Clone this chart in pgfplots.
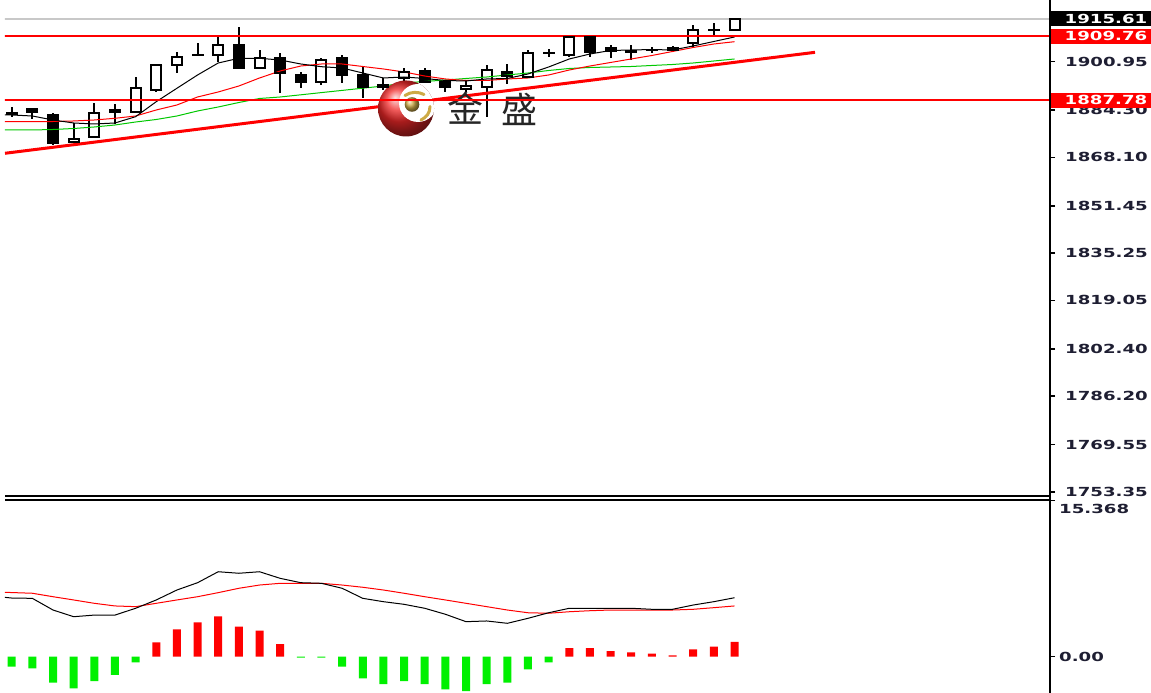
\documentclass[border=0pt]{standalone}
\usepackage{pgfplots}
\pgfplotsset{compat=1.18}
\usepackage{pgfplotstable}
\usepackage{fontspec}
\setmainfont{DejaVu Sans}
\newfontfamily\lblfamily[FakeStretch=1.45]{DejaVu Sans}
\newfontfamily\cjk{Noto Sans CJK SC}
\newcommand\lbl{\lblfamily\bfseries\fontsize{12.5}{13}\selectfont}
\definecolor{lblcol}{RGB}{30,30,50}
\definecolor{magreen}{RGB}{0,200,0}
\definecolor{hgreen}{RGB}{0,240,0}
\definecolor{hred}{RGB}{255,0,0}
\definecolor{bidgray}{RGB}{200,200,200}
\definecolor{logored}{RGB}{240,40,40}
\definecolor{logogold}{RGB}{205,170,70}

% bullish candles (white bodies)
\pgfplotstableread{
i o h l c
0 1883.10 1885.41 1881.88 1883.18
3 1873.30 1879.82 1873.13 1874.43
4 1875.02 1886.88 1874.67 1883.25
5 1883.69 1886.34 1879.58 1884.38
6 1883.80 1895.80 1883.55 1891.83
7 1891.24 1899.99 1890.66 1899.82
8 1899.82 1904.38 1896.97 1902.67
9 1903.25 1907.26 1903.08 1903.39
10 1903.25 1909.53 1900.95 1906.68
12 1898.69 1904.96 1898.55 1902.12
15 1894.09 1902.12 1892.96 1901.53
18 1892.27 1895.25 1891.24 1892.96
19 1895.36 1898.79 1893.99 1897.42
22 1891.58 1894.67 1890.55 1892.61
23 1892.37 1899.82 1881.98 1898.10
25 1895.80 1904.96 1895.70 1903.93
26 1903.76 1905.20 1902.67 1903.93
27 1903.25 1909.77 1902.56 1909.53
33 1907.26 1913.54 1906.10 1911.82
34 1911.72 1914.12 1910.11 1911.93
35 1911.82 1916.11 1911.82 1915.61
}\bull

% bearish candles (black bodies)
\pgfplotstableread{
i o h l c
1 1884.62 1884.80 1881.29 1883.59
2 1882.67 1883.25 1872.37 1872.96
11 1906.68 1912.96 1898.45 1898.69
13 1902.32 1903.83 1890.11 1896.97
14 1896.39 1897.52 1891.83 1894.09
16 1902.12 1903.25 1893.75 1896.39
17 1896.39 1899.23 1888.39 1892.17
20 1897.86 1898.69 1893.54 1894.09
21 1894.09 1894.67 1890.55 1892.37
24 1897.42 1900.16 1893.30 1896.04
28 1909.53 1909.66 1902.67 1904.38
29 1905.48 1906.68 1902.19 1904.62
30 1904.62 1906.68 1901.53 1904.38
31 1904.96 1905.99 1904.04 1904.86
32 1905.65 1906.34 1904.38 1904.96
}\bear

% moving averages: k = black (fast), r = red, g = green (slow)
\pgfplotstableread{
i k r g
-1 1882.67 1880.43 1877.52
0 1882.67 1880.43 1877.52
1 1882.32 1880.43 1877.52
2 1880.95 1880.43 1877.69
3 1879.92 1880.61 1878.03
4 1879.58 1880.95 1878.55
5 1879.92 1881.53 1879.23
6 1882.08 1882.32 1880.26
7 1887.23 1884.38 1881.12
8 1891.83 1886.10 1882.32
9 1896.39 1888.84 1884.04
10 1900.50 1890.56 1885.41
11 1902.12 1892.61 1886.95
12 1902.12 1895.36 1888.33
13 1901.53 1897.76 1888.84
14 1900.16 1899.47 1889.59
15 1899.23 1900.16 1890.35
16 1898.79 1900.16 1891.10
17 1897.07 1899.30 1891.86
18 1895.36 1898.45 1892.61
19 1895.70 1897.42 1893.64
20 1895.19 1896.04 1894.16
21 1894.50 1895.02 1894.67
22 1894.33 1894.50 1895.19
23 1895.02 1894.50 1895.70
24 1895.19 1895.02 1896.39
25 1896.73 1895.36 1897.07
26 1899.13 1896.39 1897.93
27 1901.88 1898.10 1898.62
28 1903.59 1899.47 1898.96
29 1904.79 1900.68 1899.13
30 1904.96 1901.88 1899.30
31 1905.13 1903.08 1899.65
32 1904.96 1904.45 1899.99
33 1906.34 1905.82 1900.50
34 1907.88 1907.02 1901.19
35 1909.42 1907.81 1901.88
}\ma

% MACD lines: m = main (black), s = signal (red)
\pgfplotstableread{
i m s
-1 5.98 6.40
0 5.78 6.32
1 5.75 6.25
2 4.60 5.91
3 3.94 5.59
4 4.10 5.26
5 4.10 5.00
6 4.77 4.93
7 5.59 5.26
8 6.57 5.59
9 7.29 5.91
10 8.37 6.31
11 8.22 6.74
12 8.37 7.06
13 7.72 7.23
14 7.29 7.23
15 7.23 7.23
16 6.74 7.06
17 5.75 6.84
18 5.42 6.57
19 5.16 6.25
20 4.77 5.91
21 4.18 5.59
22 3.45 5.26
23 3.52 4.93
24 3.29 4.60
25 3.78 4.33
26 4.33 4.28
27 4.77 4.43
28 4.77 4.53
29 4.77 4.60
30 4.77 4.60
31 4.67 4.60
32 4.67 4.60
33 5.09 4.67
34 5.42 4.83
35 5.81 5.00
}\macd

% MACD histogram
\pgfplotstableread{
i h
0 -0.99
1 -1.15
2 -2.56
3 -3.12
4 -2.40
5 -1.80
6 -0.56
7 1.41
8 2.69
9 3.38
10 3.97
11 2.96
12 2.56
13 1.25
14 -0.10
15 -0.10
16 -0.99
17 -2.13
18 -2.69
19 -2.40
20 -2.69
21 -3.22
22 -3.38
23 -2.69
24 -2.56
25 -1.25
26 -0.56
27 0.85
28 0.85
29 0.56
30 0.43
31 0.30
32 0.13
33 0.72
34 0.99
35 1.45
}\hist

\pgfplotsset{
  panel/.style={scale only axis, width=1044pt, xmin=-0.3245, xmax=50.23,
    axis x line=none, axis y line*=right, axis line style={draw=none},
    tick align=outside, major tick length=6pt,
    ytick style={draw=black, line width=1.5pt},
    yticklabel style={font=\lbl, text=lblcol, anchor=west, inner sep=0pt, xshift=10pt}},
  wick/.style={draw=none, mark=none, error bars/.cd, y dir=both, y explicit,
    error mark=none, error bar style={draw=black, line width=2pt}},
  edge/.style={only marks, mark=-, mark size=6pt, mark options={draw=black, line width=2pt}},
}

\begin{document}
\begin{tikzpicture}
\useasboundingbox (0,0) rectangle (1151pt,693pt);
\fill[white] (0,0) rectangle (1151pt,693pt);

% ---------- price panel ----------
\begin{axis}[panel, at={(5pt,197pt)}, anchor=south west, height=496pt,
  ymin=1751.96, ymax=1922.116,
  ytick={1753.35,1769.55,1786.20,1802.40,1819.05,1835.25,1851.45,1868.10,1884.30,1900.95},
  yticklabels={1753.35,1769.55,1786.20,1802.40,1819.05,1835.25,1851.45,1868.10,1884.30,1900.95}]
  % bid line
  \addplot[bidgray, line width=1.5pt] coordinates {(-1,1915.61) (51,1915.61)};
  % wicks
  \addplot[wick] table[x=i, y expr={(\thisrow{h}+\thisrow{l})/2}, y error expr={(\thisrow{h}-\thisrow{l})/2}] {\bull};
  \addplot[wick] table[x=i, y expr={(\thisrow{h}+\thisrow{l})/2}, y error expr={(\thisrow{h}-\thisrow{l})/2}] {\bear};
  % bodies
  \addplot[draw=none, mark=none, error bars/.cd, y dir=both, y explicit, error mark=none,
    error bar style={draw=black, line width=12pt}]
    table[x=i, y expr={(\thisrow{o}+\thisrow{c})/2}, y error expr={abs(\thisrow{o}-\thisrow{c})/2}] {\bear};
  \addplot[draw=none, mark=none, error bars/.cd, y dir=both, y explicit, error mark=none,
    error bar style={draw=black, line width=12pt}]
    table[x=i, y expr={(\thisrow{o}+\thisrow{c})/2}, y error expr={abs(\thisrow{o}-\thisrow{c})/2}] {\bull};
  \addplot[draw=none, mark=none, error bars/.cd, y dir=both, y explicit, error mark=none,
    error bar style={draw=white, line width=8pt}]
    table[x=i, y expr={(\thisrow{o}+\thisrow{c})/2}, y error expr={abs(\thisrow{o}-\thisrow{c})/2}] {\bull};
  \addplot[edge] table[x=i, y=o] {\bull};
  \addplot[edge] table[x=i, y=c] {\bull};
  \addplot[edge] table[x=i, y=o] {\bear};
  \addplot[edge] table[x=i, y=c] {\bear};
  % moving averages
  \addplot[magreen, line width=1pt] table[x=i, y=g] {\ma};
  \addplot[red, line width=1pt] table[x=i, y=r] {\ma};
  \addplot[black, line width=1pt] table[x=i, y=k] {\ma};
  % trend line
  \addplot[red, line width=3pt] coordinates {(-0.3245,1869.53) (38.9,1904.17)};
  % watermark logo
  \begin{scope}[shift={(axis cs:19.094,1884.90)}]
    \shade[ball color=logored] (0pt,0pt) circle[radius=28pt];
    \begin{scope}
      \clip (0pt,0pt) circle[radius=28pt];
      \fill[white] (12pt,5.5pt) circle[radius=19pt];
    \end{scope}
    \shade[ball color=logogold] (6pt,4pt) circle[radius=7.3pt];
    \draw[logogold, line width=3pt, line cap=round] (-1pt,13pt) .. controls (5pt,17pt) and (12pt,17pt) .. (18pt,14pt);
    \draw[logogold, line width=3pt, line cap=round] (24pt,2pt) .. controls (24pt,-5pt) and (20pt,-9pt) .. (15pt,-11.5pt);
    \node[font=\cjk\fontsize{36}{36}\selectfont, text=black!85, inner sep=0pt] at (59pt,0pt) {金};
    \node[font=\cjk\fontsize{36}{36}\selectfont, text=black!85, inner sep=0pt] at (113.5pt,-0.5pt) {盛};
  \end{scope}
  % horizontal levels
  \addplot[red, line width=2pt] coordinates {(-1,1909.76) (51,1909.76)};
  \addplot[red, line width=2pt] coordinates {(-1,1887.78) (51,1887.78)};
  \coordinate (bid) at (axis cs:50.23,1915.61);
  \coordinate (l1) at (axis cs:50.23,1909.76);
  \coordinate (l2) at (axis cs:50.23,1887.78);
\end{axis}

% ---------- MACD panel ----------
\begin{axis}[panel, at={(5pt,0pt)}, anchor=south west, height=193pt,
  ymin=-3.576, ymax=15.438, ytick={0,15.368}, yticklabels={,}]
  \addplot[ybar, bar width=8pt, bar shift=0pt, fill=hgreen, draw=none, restrict y to domain=-10:0] table[x=i, y=h] {\hist};
  \addplot[ybar, bar width=8pt, bar shift=0pt, fill=hred, draw=none, restrict y to domain=0:10] table[x=i, y=h] {\hist};
  \addplot[red, line width=1pt] table[x=i, y=s] {\macd};
  \addplot[black, line width=1pt] table[x=i, y=m] {\macd};
  \coordinate (t1) at (axis cs:50.23,15.368);
  \coordinate (t0) at (axis cs:50.23,0);
\end{axis}

% frames
\draw[black, line width=1.3pt] (5pt,197pt) -- (1049pt,197pt);
\draw[black, line width=1.3pt] (5pt,193pt) -- (1049pt,193pt);
\draw[black, line width=2pt] (1049.5pt,0pt) -- (1049.5pt,693pt);

% price labels
\node[fill=black, text=white, font=\lbl, anchor=west, inner xsep=14pt, inner ysep=0pt, minimum height=15pt] at ([xshift=1.5pt]bid) {1915.61};
\node[fill=red, text=white, font=\lbl, anchor=west, inner xsep=14pt, inner ysep=0pt, minimum height=15pt] at ([xshift=1.5pt]l1) {1909.76};
\node[fill=red, text=white, font=\lbl, anchor=west, inner xsep=14pt, inner ysep=0pt, minimum height=15pt] at ([xshift=1.5pt]l2) {1887.78};
\node[font=\lbl, text=lblcol, anchor=north west, inner sep=0pt] at ([xshift=10pt,yshift=-3pt]t1) {15.368};
\node[font=\lbl, text=lblcol, anchor=west, inner sep=0pt] at ([xshift=10pt]t0) {0.00};
\end{tikzpicture}
\end{document}
